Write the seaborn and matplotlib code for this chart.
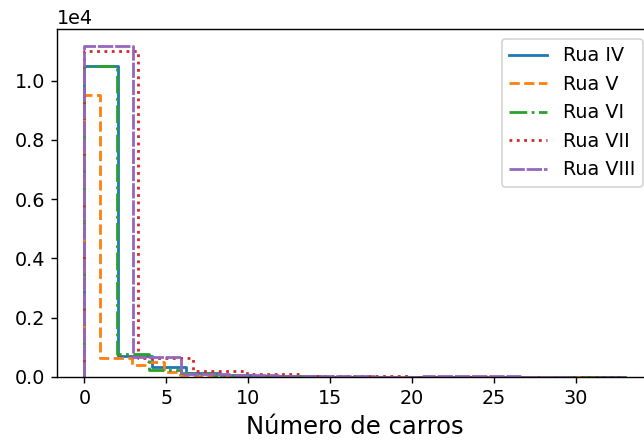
import numpy as np
import pandas as pd
import matplotlib
matplotlib.use("Agg")
import matplotlib.pyplot as plt
import seaborn as sns

# Histogram of cars counted per street: bin width and bin counts per street
streets = ["Rua IV", "Rua V", "Rua VI", "Rua VII", "Rua VIII"]
bin_widths = [2.0625, 0.97, 1.97, 3.3, 2.95]

counts_iv = [10500, 720, 350, 135, 60, 35, 20, 12, 8, 5, 3, 2, 2, 1, 1, 1]
counts_v = [9500, 650, 650, 400, 500, 180, 70, 50, 40, 30, 25, 20, 15, 12, 10, 8,
            6, 5, 4, 3, 3, 2, 2, 1, 1, 1, 1, 1, 0, 0, 0, 0]
counts_vi = [10500, 780, 240, 120, 60, 40, 25, 15, 10, 6, 4, 3, 2, 1, 1, 1]
counts_vii = [11000, 630, 210, 100, 40, 20, 12, 8, 5, 3]
counts_viii = [11180, 680, 110, 55, 35, 25, 15, 25, 20, 5]
all_counts = [counts_iv, counts_v, counts_vi, counts_vii, counts_viii]

colors = ["#1f77b4", "#ff7f0e", "#2ca02c", "#d62728", "#9467bd"]
styles = ["-", "--", "-.", ":", (0, (5.5, 0.7))]

dpi = 125
fig = plt.figure(figsize=(644 / dpi, 441 / dpi), dpi=dpi)
# the axes run slightly past the right edge of the canvas
ax = fig.add_axes([57.3 / 644, 64 / 441, 595 / 644, 348 / 441])

for name, w, counts, c, ls in zip(streets, bin_widths, all_counts, colors, styles):
    counts = np.asarray(counts, dtype=float)
    edges = w * np.arange(len(counts) + 1)
    df = pd.DataFrame({"carros": edges[:-1] + w / 2, "n": counts})
    sns.histplot(data=df, x="carros", weights="n", bins=edges.tolist(),
                 element="step", fill=False, color=c, linestyle=ls,
                 linewidth=1.6, label=name, ax=ax)
    # close the step outline down to the baseline at both ends
    line = ax.lines[-1]
    xs, ys = line.get_data()
    xs = np.asarray(xs, dtype=float)
    ys = np.asarray(ys, dtype=float)
    line.set_data(np.r_[xs[0], xs, xs[-1]], np.r_[0.0, ys, 0.0])

ax.set_xlim(-1.65, 34.65)
ax.set_ylim(0, 11740)
ax.ticklabel_format(axis="y", style="sci", scilimits=(0, 0))
ax.set_ylabel("")
ax.set_xlabel("Número de carros", fontsize=14)
ax.tick_params(labelsize=11)
ax.yaxis.get_offset_text().set_fontsize(11)
ax.legend(loc="upper right", fontsize=11)

fig.savefig("out.png", dpi=dpi)
